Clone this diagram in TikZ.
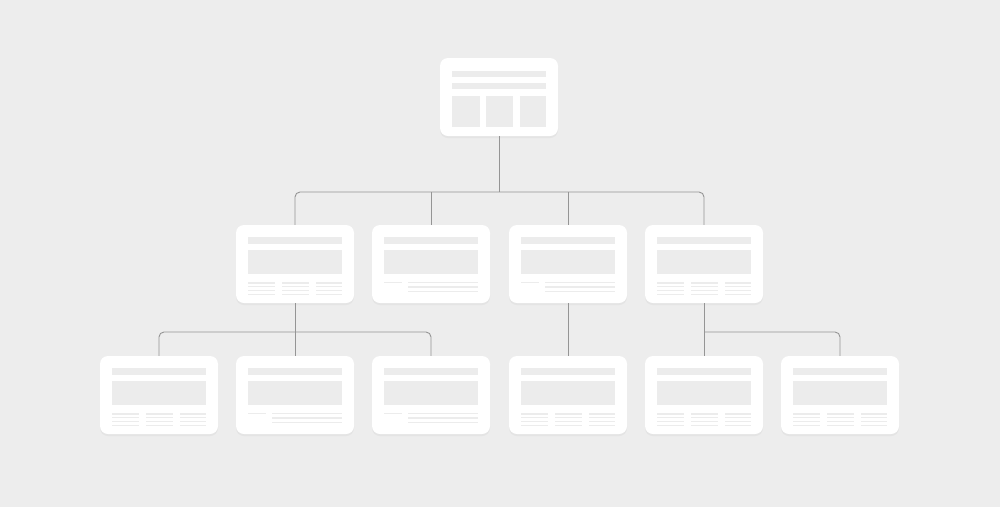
\documentclass[tikz,border=0pt]{standalone}
\usetikzlibrary{shadows}
\definecolor{bg}{HTML}{EDEDED}
\definecolor{el}{HTML}{ECECEC}
\definecolor{ln}{HTML}{959595}
\definecolor{sh}{HTML}{E4E4E4}
\tikzset{
  card/.style={fill=white, draw=none, rounded corners=8pt, minimum width=118pt, minimum height=78pt, inner sep=0pt,
    copy shadow={shadow xshift=0pt, shadow yshift=-2pt, fill=sh, draw=none}},
  link/.style={draw=ln, line width=0.9pt, rounded corners=5pt},
  elem/.style={fill=el, draw=none},
}
\newcommand\cardhead[1]{%
  \begin{scope}[shift={(#1.north west)}]
    \fill[elem] (12,12) rectangle (106,19);
    \fill[elem] (12,25) rectangle (106,49);
  \end{scope}}
\newcommand\cardcols[1]{%
  \cardhead{#1}%
  \begin{scope}[shift={(#1.north west)}]
    \foreach \a/\b in {12/39,46/73,80/106}{
      \fill[elem] (\a,57) rectangle (\b,58.8);
      \fill[elem] (\a,61) rectangle (\b,62.2);
      \fill[elem] (\a,65) rectangle (\b,66.2);
      \fill[elem] (\a,69) rectangle (\b,70.2);
    }
  \end{scope}}
\newcommand\cardlr[1]{%
  \cardhead{#1}%
  \begin{scope}[shift={(#1.north west)}]
    \fill[elem] (12,57) rectangle (30,58.5);
    \fill[elem] (36,57) rectangle (106,58.5);
    \fill[elem] (36,61.5) rectangle (106,62.7);
    \fill[elem] (36,66) rectangle (106,67.2);
  \end{scope}}
\newcommand\cardtop[1]{%
  \begin{scope}[shift={(#1.north west)}]
    \fill[elem] (12,13) rectangle (106,19);
    \fill[elem] (12,25) rectangle (106,31);
    \foreach \a/\b in {12/40,46/73,80/106}{
      \fill[elem] (\a,38) rectangle (\b,69);
    }
  \end{scope}}
\begin{document}
\begin{tikzpicture}[x=1pt,y=-1pt]
  \fill[bg] (0,0) rectangle (1000,507);
  \useasboundingbox (0,0) rectangle (1000,507);
  % cards
  \node[card] (top) at (499,97) {};
  \node[card] (r2a) at (295,264) {};
  \node[card] (r2b) at (431,264) {};
  \node[card] (r2c) at (568,264) {};
  \node[card] (r2d) at (704,264) {};
  \node[card] (r3a) at (159,395) {};
  \node[card] (r3b) at (295,395) {};
  \node[card] (r3c) at (431,395) {};
  \node[card] (r3d) at (568,395) {};
  \node[card] (r3e) at (704,395) {};
  \node[card] (r3f) at (840,395) {};
  % contents
  \cardtop{top}
  \cardcols{r2a}
  \cardlr{r2b}
  \cardlr{r2c}
  \cardcols{r2d}
  \cardcols{r3a}
  \cardlr{r3b}
  \cardlr{r3c}
  \cardcols{r3d}
  \cardcols{r3e}
  \cardcols{r3f}
  % junctions
  \coordinate (j1) at (499,192);
  \coordinate (j2) at (499,332);
  % connectors
  \draw[link] (top.south) -- (j1);
  \draw[link] (r2a.north) -- (r2a.north |- j1) -- (r2d.north |- j1) -- (r2d.north);
  \draw[link] (r2b.north) -- (r2b.north |- j1);
  \draw[link] (r2c.north) -- (r2c.north |- j1);
  \draw[link] (r2a.south) -- (r3b.north);
  \draw[link] (r3a.north) -- (r3a.north |- j2) -- (r3c.north |- j2) -- (r3c.north);
  \draw[link] (r2c.south) -- (r3d.north);
  \draw[link] (r2d.south) -- (r3e.north);
  \draw[link] (r3e.north |- j2) -- (r3f.north |- j2) -- (r3f.north);
\end{tikzpicture}
\end{document}
